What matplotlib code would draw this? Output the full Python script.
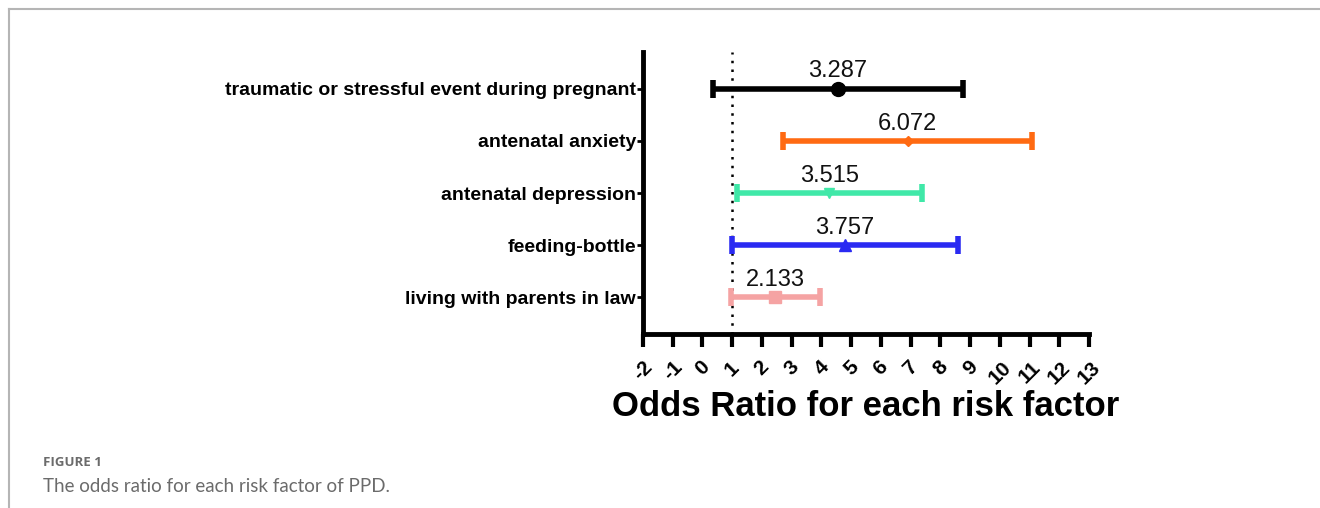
import matplotlib.pyplot as plt
from matplotlib.lines import Line2D

# risk factors, top row first
factors = ['traumatic or stressful event during pregnant', 'antenatal anxiety',
           'antenatal depression', 'feeding-bottle', 'living with parents in law']
or_labels = ['3.287', '6.072', '3.515', '3.757', '2.133']
point_x = [4.55, 6.90, 4.26, 4.80, 2.45]
lower = [0.36, 2.72, 1.15, 0.98, 0.95]
upper = [8.77, 11.09, 7.37, 8.58, 3.96]
xticks = list(range(-2, 14))

colors = ['#000000', '#FF6A12', '#40E8A8', '#2A2AF2', '#F5A3A3']
markers = ['o', 'D', 'v', '^', 's']
msizes = [10, 5, 7, 8, 8]

fig = plt.figure(figsize=(13.2, 5.08), dpi=100)
ax = fig.add_axes([643 / 1320, 1 - 334 / 508, (1089 - 643) / 1320, (334 - 52) / 508])

n = len(factors)
ypos = [n - i for i in range(n)]
for i in range(n):
    ax.errorbar(point_x[i], ypos[i], xerr=[[point_x[i] - lower[i]], [upper[i] - point_x[i]]],
                fmt=markers[i], color=colors[i], ms=msizes[i], elinewidth=4,
                capsize=6.5, capthick=4, zorder=3)
    ax.text(point_x[i], ypos[i] + 0.12, or_labels[i], ha='center', va='bottom',
            fontsize=17, family='Liberation Sans', color='#111111')

ax.axvline(1, color='black', lw=1.8, ls=(0, (1, 2.5)), zorder=2)

ax.set_xlim(-2, 13)
ax.set_ylim(0.3, 5.7)
ax.set_yticks(ypos)
ax.set_yticklabels(factors, fontsize=14, fontweight='bold', family='Liberation Sans')
ax.set_xticks(xticks)
ax.set_xticklabels([str(t) for t in xticks], rotation=45, ha='center',
                   fontsize=15, fontweight='bold', family='Liberation Sans')
ax.tick_params(axis='x', length=9, width=3, pad=8)
ax.tick_params(axis='y', length=4, width=2, pad=1)
ax.set_xlabel('Odds Ratio for each risk factor', fontsize=25, fontweight='bold',
              family='Liberation Sans', labelpad=2)
for s in ['top', 'right']:
    ax.spines[s].set_visible(False)
for s in ['left', 'bottom']:
    ax.spines[s].set_linewidth(3.5)

# page frame and caption
fig.add_artist(Line2D([9 / 1320, 1], [1 - 9 / 508, 1 - 9 / 508], color='#b5b5b5', lw=1.5))
fig.add_artist(Line2D([9 / 1320, 9 / 1320], [0, 1 - 9 / 508], color='#b5b5b5', lw=1.5))
fig.text(43 / 1320, 1 - 463 / 508, 'FIGURE 1', fontsize=9.5, fontweight='bold',
         color='#6b6b6b', family='Open Sans', va='center')
fig.text(43 / 1320, 1 - 486 / 508, 'The odds ratio for each risk factor of PPD.', fontsize=13.5,
         color='#6b6b6b', family='Lato', va='center')

fig.savefig('out.png', dpi=100)
